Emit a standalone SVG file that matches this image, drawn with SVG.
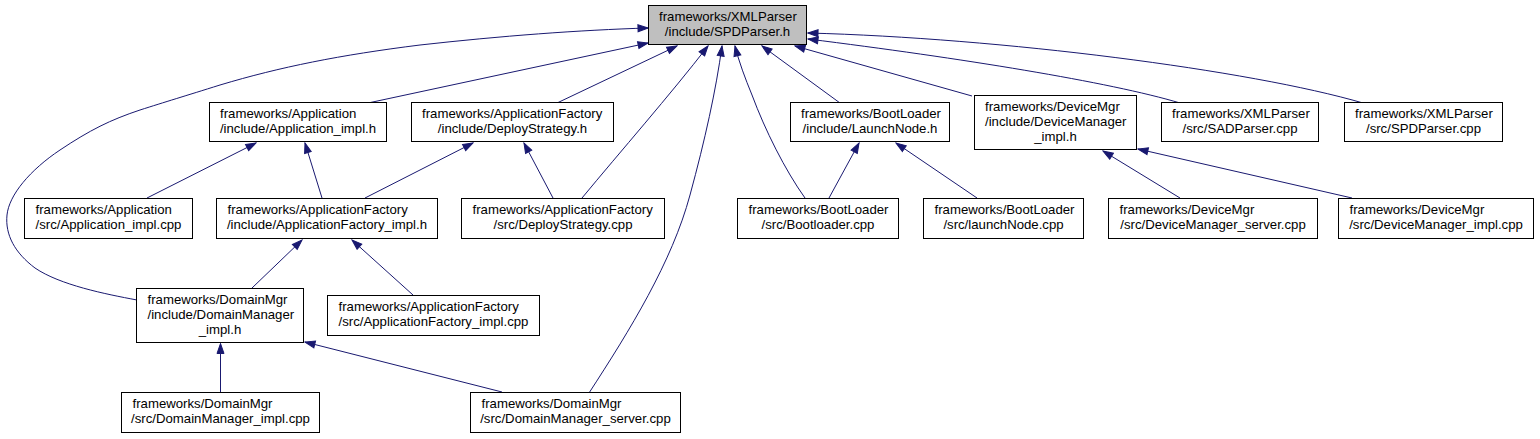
<svg xmlns="http://www.w3.org/2000/svg" width="1540" height="439" viewBox="0 0 1540 439">
<style>
.n rect{fill:#fff;stroke:#000;stroke-width:1}
.n.main rect{fill:#bfbfbf}
.n text{font-family:"Liberation Sans",Arial,Helvetica,sans-serif;font-size:13.2px;fill:#000}
.c{text-anchor:middle}
#edges path{fill:none;stroke:#191970;stroke-width:1;marker-end:url(#ah)}
</style>
<defs>
<marker id="ah" markerUnits="userSpaceOnUse" markerWidth="12" markerHeight="9" viewBox="-1 -1 12 9" refX="10" refY="3.5" orient="auto"><path d="M0,0 L10,3.5 L0,7 Z" fill="#191970" stroke="#191970"/></marker>
</defs>
<rect width="1540" height="439" fill="#fff"/>
<g id="edges">
<path d="M137,300 C105,294 60,285 35,268 C15,253 5,235 7,215 C9,195 30,170 60,150 C90,130 110,120 140,110 C165,102 185,96 220,85 C280,67 340,55 420,45 C500,36 580,30 648,28"/>
<path d="M368,103 L648,43"/>
<path d="M557,103 L677,46"/>
<path d="M582,198 C620,152 670,95 708,46"/>
<path d="M589,393 C630,330 672,262 690,195 C705,140 716,90 722,46"/>
<path d="M805,198 C785,170 765,130 752,95 C745,78 739,62 735,46"/>
<path d="M840,103 L762,46"/>
<path d="M972,96 L795,46"/>
<path d="M1180,103 C1110,82 960,58 808,39"/>
<path d="M1363,103 C1250,70 1000,38 808,33"/>
<path d="M147,198 L256,143"/>
<path d="M322,198 L305,143"/>
<path d="M365,198 L473,143"/>
<path d="M553,198 L524,143"/>
<path d="M252,288 L302,240"/>
<path d="M413,295 L352,240"/>
<path d="M220.5,392 L220.5,343.5"/>
<path d="M502,392 L305,342"/>
<path d="M829,198 L859,143"/>
<path d="M977,198 L896,143"/>
<path d="M1180,198 L1103,151"/>
<path d="M1352,198 L1138,149"/>
</g>
<g id="n_spdparser_h" class="n main"><rect x="648.5" y="5.5" width="158" height="39"/><text x="659" y="21">frameworks/XMLParser</text><text class="c" x="727.5" y="36">/include/SPDParser.h</text></g>
<g id="n_application_impl_h" class="n"><rect x="209.5" y="102.5" width="177" height="39"/><text x="220" y="118">frameworks/Application</text><text class="c" x="298" y="133">/include/Application_impl.h</text></g>
<g id="n_deploystrategy_h" class="n"><rect x="411.5" y="102.5" width="202" height="39"/><text x="422" y="118">frameworks/ApplicationFactory</text><text class="c" x="512.5" y="133">/include/DeployStrategy.h</text></g>
<g id="n_launchnode_h" class="n"><rect x="790.5" y="102.5" width="159" height="39"/><text x="801" y="118">frameworks/BootLoader</text><text class="c" x="870" y="133">/include/LaunchNode.h</text></g>
<g id="n_devicemanager_impl_h" class="n"><rect x="974.5" y="95.5" width="162" height="54"/><text x="985" y="111">frameworks/DeviceMgr</text><text x="985" y="126">/include/DeviceManager</text><text class="c" x="1055.5" y="141">_impl.h</text></g>
<g id="n_sadparser_cpp" class="n"><rect x="1161.5" y="102.5" width="157" height="39"/><text x="1172" y="118">frameworks/XMLParser</text><text class="c" x="1240" y="133">/src/SADParser.cpp</text></g>
<g id="n_spdparser_cpp" class="n"><rect x="1344.5" y="102.5" width="158" height="39"/><text x="1355" y="118">frameworks/XMLParser</text><text class="c" x="1423.5" y="133">/src/SPDParser.cpp</text></g>
<g id="n_application_impl_cpp" class="n"><rect x="24.5" y="198.5" width="168" height="40"/><text x="35.5" y="214">frameworks/Application</text><text class="c" x="108.5" y="229">/src/Application_impl.cpp</text></g>
<g id="n_applicationfactory_impl_h" class="n"><rect x="216.5" y="198.5" width="221" height="40"/><text x="227.5" y="214">frameworks/ApplicationFactory</text><text class="c" x="327" y="229">/include/ApplicationFactory_impl.h</text></g>
<g id="n_deploystrategy_cpp" class="n"><rect x="461.5" y="198.5" width="203" height="40"/><text x="472.5" y="214">frameworks/ApplicationFactory</text><text class="c" x="563" y="229">/src/DeployStrategy.cpp</text></g>
<g id="n_bootloader_cpp" class="n"><rect x="737.5" y="198.5" width="161" height="40"/><text x="748.5" y="214">frameworks/BootLoader</text><text class="c" x="818" y="229">/src/Bootloader.cpp</text></g>
<g id="n_launchnode_cpp" class="n"><rect x="923.5" y="198.5" width="160" height="40"/><text x="934.5" y="214">frameworks/BootLoader</text><text class="c" x="1003.5" y="229">/src/launchNode.cpp</text></g>
<g id="n_devicemanager_server_cpp" class="n"><rect x="1108.5" y="198.5" width="209" height="40"/><text x="1119.5" y="214">frameworks/DeviceMgr</text><text class="c" x="1213" y="229">/src/DeviceManager_server.cpp</text></g>
<g id="n_devicemanager_impl_cpp" class="n"><rect x="1338.5" y="198.5" width="195" height="40"/><text x="1349.5" y="214">frameworks/DeviceMgr</text><text class="c" x="1436" y="229">/src/DeviceManager_impl.cpp</text></g>
<g id="n_domainmanager_impl_h" class="n"><rect x="136.5" y="288.5" width="167" height="54"/><text x="147.5" y="304">frameworks/DomainMgr</text><text x="147.5" y="319">/include/DomainManager</text><text class="c" x="220" y="334">_impl.h</text></g>
<g id="n_applicationfactory_impl_cpp" class="n"><rect x="327.5" y="295.5" width="212" height="40"/><text x="338.5" y="311">frameworks/ApplicationFactory</text><text class="c" x="433.5" y="326">/src/ApplicationFactory_impl.cpp</text></g>
<g id="n_domainmanager_impl_cpp" class="n"><rect x="121.5" y="392.5" width="198" height="40"/><text x="132.5" y="408">frameworks/DomainMgr</text><text class="c" x="220.5" y="423">/src/DomainManager_impl.cpp</text></g>
<g id="n_domainmanager_server_cpp" class="n"><rect x="470.5" y="392.5" width="210" height="40"/><text x="481.5" y="408">frameworks/DomainMgr</text><text class="c" x="575.5" y="423">/src/DomainManager_server.cpp</text></g>
</svg>
